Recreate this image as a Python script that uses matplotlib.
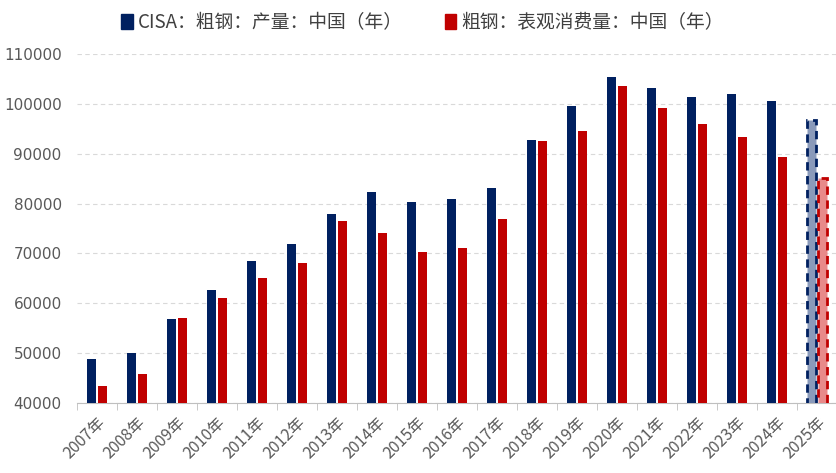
import matplotlib
matplotlib.use('Agg')
import matplotlib.pyplot as plt
import numpy as np
from matplotlib.patches import Patch

plt.rcParams['font.family'] = ['Noto Sans CJK SC', 'DejaVu Sans']

years = ['2007年', '2008年', '2009年', '2010年', '2011年', '2012年', '2013年',
         '2014年', '2015年', '2016年', '2017年', '2018年', '2019年', '2020年',
         '2021年', '2022年', '2023年', '2024年', '2025年']
production = [48900, 50100, 56800, 62700, 68500, 71900, 77900, 82300, 80400,
              80900, 83200, 92800, 99600, 105300, 103200, 101300, 102000,
              100600, 96700]
consumption = [43500, 45800, 57000, 61100, 65100, 68100, 76500, 74000, 70300,
               71000, 76900, 92500, 94600, 103600, 99200, 96000, 93400,
               89300, 85200]
yticks = [40000, 50000, 60000, 70000, 80000, 90000, 100000, 110000]

navy = '#002060'
red = '#C00000'
gray = '#595959'

fig = plt.figure(figsize=(8.37, 4.73), dpi=100)
ax = fig.add_axes([0.092, 0.148, 0.908, 0.738])

x = np.arange(len(years))
w = 0.22
off = 0.14
n = len(years) - 1

ax.bar(x[:n] - off, production[:n], w, color=navy, zorder=3)
ax.bar(x[:n] + off, consumption[:n], w, color=red, zorder=3)
# 2025 forecast: light fill with dashed edge
ax.bar(x[n] - off, production[n], w, color='#8a9aba', edgecolor=navy,
       linestyle=(0, (3, 2)), linewidth=2, zorder=3)
ax.bar(x[n] + off, consumption[n], w, color='#e88a8a', edgecolor=red,
       linestyle=(0, (3, 2)), linewidth=2, zorder=3)

ax.set_xlim(-0.5, len(years) - 0.5)
ax.set_ylim(40000, 110000)
ax.set_yticks(yticks)
ax.set_yticklabels([str(v) for v in yticks], color=gray, fontsize=11,
                   family=['DejaVu Sans'])
ax.yaxis.grid(True, linestyle=(0, (4, 3)), color='#d9d9d9', linewidth=0.8, zorder=0)
ax.tick_params(axis='y', length=0, pad=11)

ax.set_xticks(x)
ax.set_xticklabels(years, rotation=45, ha='right', rotation_mode='anchor',
                   color=gray, fontsize=11.5)
ax.set_xticks(np.arange(len(years) + 1) - 0.5, minor=True)
ax.tick_params(axis='x', which='major', length=0, pad=8)
ax.tick_params(axis='x', which='minor', length=5, color='#bfbfbf')

for s in ['top', 'right', 'left']:
    ax.spines[s].set_visible(False)
ax.spines['bottom'].set_color('#bfbfbf')

handles = [Patch(color=navy, label='CISA：粗钢：产量：中国（年）'),
           Patch(color=red, label='粗钢：表观消费量：中国（年）')]
fig.legend(handles=handles, loc='upper center', bbox_to_anchor=(0.505, 1.01),
           ncol=2, frameon=False, fontsize=13.5, handlelength=0.6,
           handleheight=0.8, handletextpad=0.3, columnspacing=2.2,
           labelcolor='#404040')

fig.savefig('out.png', dpi=100)
